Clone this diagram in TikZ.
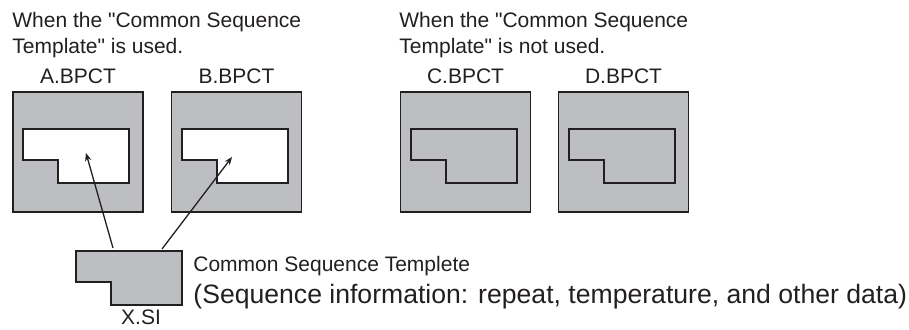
\documentclass[tikz,border=0pt]{standalone}
\usepackage{fontspec}
\setmainfont{Liberation Sans}[Ligatures=TeXOff]
\usetikzlibrary{arrows.meta}
\definecolor{panelgray}{RGB}{189,190,193}
\definecolor{inkblack}{RGB}{35,31,32}

\begin{document}
\begin{tikzpicture}[x=0.5pt, y=-0.5pt,
    bpct/.style={draw=inkblack, line width=0.9pt, fill=panelgray, minimum width=65pt, minimum height=60pt, inner sep=0pt},
    caption/.style={inner sep=0pt, font=\fontsize{10.5}{13}\selectfont, text=inkblack},
    bigcaption/.style={inner sep=0pt, font=\fontsize{13.3}{16}\selectfont, text=inkblack},
    arrow/.style={-{Stealth[length=4pt, width=3.2pt]}, line width=0.65pt, draw=inkblack},
    pics/notch/.style={code={\draw[line width=1pt, draw=inkblack, fill=#1] (0,0) -- (106,0) -- (106,54) -- (35,54) -- (35,31) -- (0,31) -- cycle;}},
]
\useasboundingbox (0,0) rectangle (909,329);
% Titles
\node[caption, anchor=base west] (used1) at (12,27) {When the "Common Sequence};
\node[caption, anchor=base west] (used2) at (12,53) {Template" is used.};
\node[caption, anchor=base west] (notused1) at (399,27) {When the "Common Sequence};
\node[caption, anchor=base west] (notused2) at (399,53) {Template" is not used.};
% BPCT boxes
\node[bpct] (A) at (78,152) {};
\node[bpct] (B) at (236.5,152) {};
\node[bpct] (C) at (465.5,152) {};
\node[bpct] (D) at (623.5,152) {};
\node[caption, anchor=base] (Alabel) at (78,83) {A.BPCT};
\node[caption, anchor=base] (Blabel) at (236.5,83) {B.BPCT};
\node[caption, anchor=base] (Clabel) at (465.5,83) {C.BPCT};
\node[caption, anchor=base] (Dlabel) at (623.5,83) {D.BPCT};
% Sequence areas
\pic at (23,129) {notch=white};
\pic at (182,129) {notch=white};
\pic at (411,129) {notch=panelgray};
\pic at (569,129) {notch=panelgray};
% Common template
\pic at (76,251) {notch=panelgray};
\node[caption, anchor=base] (XSI) at (141,324) {X.SI};
\node[caption, anchor=base west] (tmpl1) at (193,271) {Common Sequence Templete};
\node[bigcaption, anchor=base west] (tmpl2) at (193,303) {(Sequence information: repeat, temperature, and other data)};
% Arrows
\coordinate (tailA) at (113,248);
\coordinate (tailB) at (162,249);
\coordinate (tipA) at (86,153);
\coordinate (tipB) at (232,157);
\draw[arrow] (tailA) -- (tipA);
\draw[arrow] (tailB) -- (tipB);
\end{tikzpicture}
\end{document}
